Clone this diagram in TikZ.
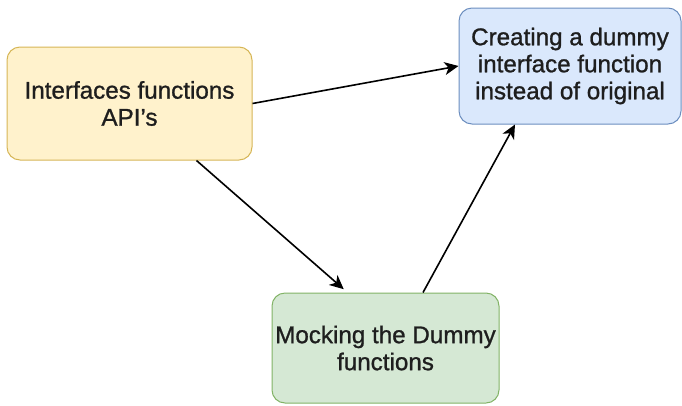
\documentclass[tikz,border=0pt]{standalone}
\usepackage{fontspec}
\setmainfont{Liberation Sans}
\usetikzlibrary{arrows.meta}
\definecolor{yfill}{HTML}{FFF2CC}
\definecolor{ydraw}{HTML}{D6B656}
\definecolor{bfill}{HTML}{DAE8FC}
\definecolor{bdraw}{HTML}{6C8EBF}
\definecolor{gfill}{HTML}{D5E8D4}
\definecolor{gdraw}{HTML}{82B366}
\definecolor{txt}{HTML}{1E1E1E}
\tikzset{
  box/.style={rounded corners=13pt, line width=1pt, inner sep=0pt, align=center,
    text=txt, font=\fontsize{24.2}{27}\selectfont\addfontfeatures{FakeBold=1}},
  conn/.style={line width=1.6pt, black, -{Stealth[length=14pt,width=13pt,inset=4pt]}}
}
\begin{document}
\begin{tikzpicture}[x=1pt,y=-1pt]
\useasboundingbox (0,0) rectangle (682,405);
\node[box, fill=yfill, draw=ydraw, minimum width=245pt, minimum height=113pt] (api) at (129.5,103.5) {Interfaces functions\\API{\char"0027}s};
\node[box, fill=bfill, draw=bdraw, minimum width=222pt, minimum height=116pt] (dummy) at (570,66) {Creating a dummy\\interface function\\instead of original};
\node[box, fill=gfill, draw=gdraw, minimum width=227pt, minimum height=110pt] (mock) at (385.5,348) {Mocking the Dummy\\functions};
\draw[conn] (api.east) -- (dummy.west);
\draw[conn, shorten >=5pt] ([xshift=67pt]api.south) -- ([xshift=-38pt]mock.north);
\draw[conn] ([xshift=37.5pt]mock.north) -- ([xshift=-55pt]dummy.south);
\end{tikzpicture}
\end{document}
